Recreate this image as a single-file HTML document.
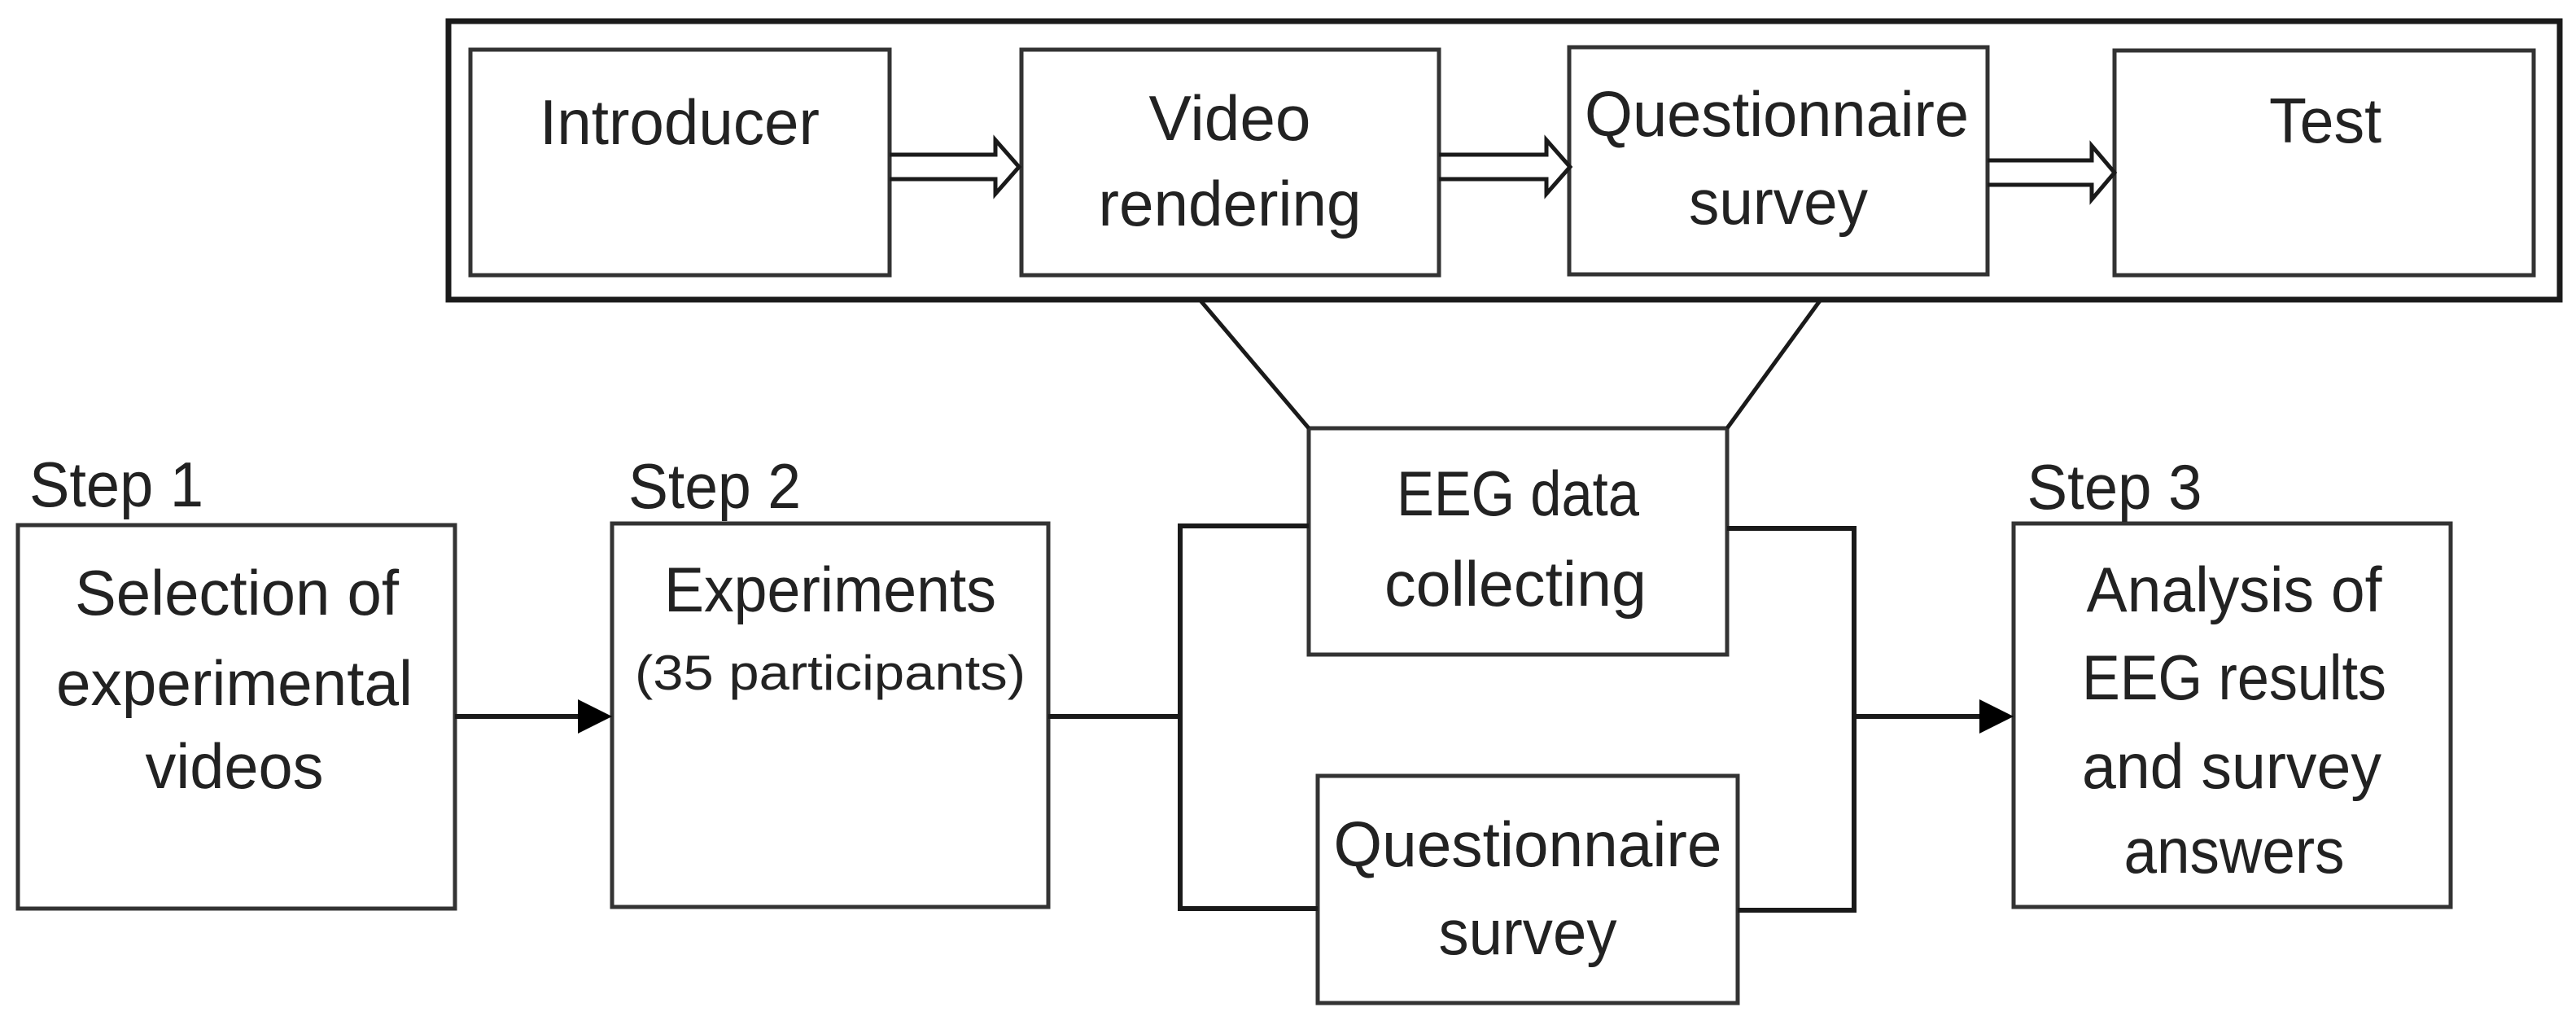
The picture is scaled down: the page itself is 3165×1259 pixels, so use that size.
<!DOCTYPE html>
<html><head><meta charset="utf-8"><style>html,body{margin:0;padding:0;background:#fff}svg{display:block}</style></head>
<body>
<svg width="3165" height="1259" viewBox="0 0 3165 1259" xmlns="http://www.w3.org/2000/svg">
<g fill="none" stroke="#1a1a1a">
<rect x="551" y="26" width="2594" height="342" stroke-width="7"/>
<g stroke="#333" stroke-width="5">
<rect x="578" y="61" width="515" height="277"/>
<rect x="1255" y="61" width="513" height="277"/>
<rect x="1928" y="58" width="514" height="279"/>
<rect x="2598" y="62" width="515" height="276"/>
<rect x="22" y="645" width="537" height="471"/>
<rect x="752" y="643" width="536" height="471"/>
<rect x="1608" y="526" width="514" height="278"/>
<rect x="1619" y="953" width="516" height="279"/>
<rect x="2474" y="643" width="537" height="471"/>
</g>
<g stroke-width="5" stroke-linejoin="miter">
<path d="M1093 190 H1223 V172 L1252 205 L1223 238 V220 H1093"/>
<path d="M1768 190 H1900 V172 L1929 205 L1900 238 V220 H1768"/>
<path d="M2442 197 H2570 V179 L2598 212 L2570 245 V227 H2442"/>
</g>
<g stroke-width="5">
<line x1="1474" y1="368" x2="1608" y2="526"/>
<line x1="2237" y1="368" x2="2122" y2="526"/>
</g>
<g stroke-width="6">
<line x1="559" y1="880" x2="712" y2="880"/>
<path d="M1608 646 H1450 V1116 H1619"/>
<line x1="1288" y1="880" x2="1450" y2="880"/>
<path d="M2122 649 H2278 V1118 H2135"/>
<line x1="2278" y1="880" x2="2434" y2="880"/>
</g>
</g>
<polygon points="710,859 752,880 710,901" fill="#000"/>
<polygon points="2432,859 2474,880 2432,901" fill="#000"/>
<g font-family="'Liberation Sans', sans-serif" font-size="78" fill="#222" text-anchor="middle" lengthAdjust="spacingAndGlyphs">
<text x="835" y="177" textLength="344" lengthAdjust="spacingAndGlyphs">Introducer</text>
<text x="1511" y="172" textLength="199" lengthAdjust="spacingAndGlyphs">Video</text>
<text x="1511" y="277" textLength="323" lengthAdjust="spacingAndGlyphs">rendering</text>
<text x="2183" y="167" textLength="472" lengthAdjust="spacingAndGlyphs">Questionnaire</text>
<text x="2185" y="275" textLength="220" lengthAdjust="spacingAndGlyphs">survey</text>
<text x="2857" y="175" textLength="138" lengthAdjust="spacingAndGlyphs">Test</text>
<text x="143" y="622" textLength="214" lengthAdjust="spacingAndGlyphs">Step 1</text>
<text x="878" y="624" textLength="212" lengthAdjust="spacingAndGlyphs">Step 2</text>
<text x="2598" y="625" textLength="215" lengthAdjust="spacingAndGlyphs">Step 3</text>
<text x="291" y="755" textLength="398" lengthAdjust="spacingAndGlyphs">Selection of</text>
<text x="288" y="866" textLength="438" lengthAdjust="spacingAndGlyphs">experimental</text>
<text x="288" y="968" textLength="219" lengthAdjust="spacingAndGlyphs">videos</text>
<text x="1020" y="751" textLength="408" lengthAdjust="spacingAndGlyphs">Experiments</text>
<text x="1020" y="847" font-size="60" textLength="480" lengthAdjust="spacingAndGlyphs">(35 participants)</text>
<text x="1865" y="633" textLength="298" lengthAdjust="spacingAndGlyphs">EEG data</text>
<text x="1862" y="744" textLength="322" lengthAdjust="spacingAndGlyphs">collecting</text>
<text x="1877" y="1064" textLength="477" lengthAdjust="spacingAndGlyphs">Questionnaire</text>
<text x="1877" y="1172" textLength="219" lengthAdjust="spacingAndGlyphs">survey</text>
<text x="2745" y="751" textLength="363" lengthAdjust="spacingAndGlyphs">Analysis of</text>
<text x="2745" y="859" textLength="374" lengthAdjust="spacingAndGlyphs">EEG results</text>
<text x="2742" y="968" textLength="368" lengthAdjust="spacingAndGlyphs">and survey</text>
<text x="2745" y="1072" textLength="271" lengthAdjust="spacingAndGlyphs">answers</text>
</g>
</svg>
</body></html>
